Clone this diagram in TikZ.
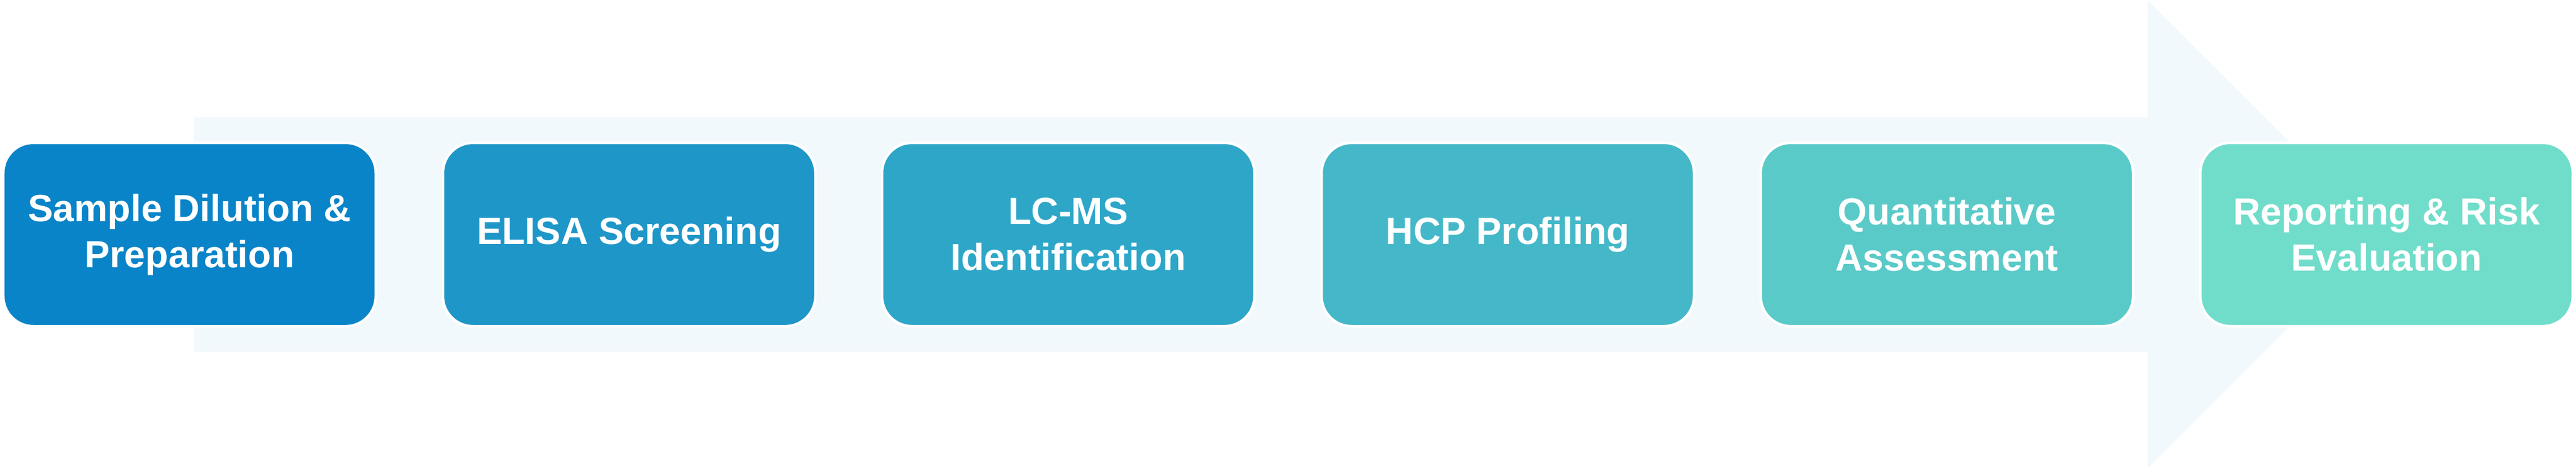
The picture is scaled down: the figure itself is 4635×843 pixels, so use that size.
\documentclass[tikz,border=0pt]{standalone}
\usepackage{fontspec}
\setmainfont{Liberation Sans}
\definecolor{arrowbg}{HTML}{F2F9FC}
\definecolor{stepa}{HTML}{0984C8}
\definecolor{stepb}{HTML}{1E96C8}
\definecolor{stepc}{HTML}{2DA6C8}
\definecolor{stepd}{HTML}{44B8C8}
\definecolor{stepe}{HTML}{5ACAC9}
\definecolor{stepf}{HTML}{70DDCA}
\begin{document}
\begin{tikzpicture}[x=0.2pt,y=-0.2pt,
  stepbox/.style={rectangle,rounded corners=10.8pt,draw=white,line width=0.9pt,
    minimum width=134pt,minimum height=66pt,text=white,align=center,
    font=\fontsize{13.6}{16.6}\selectfont\bfseries}]

 \useasboundingbox (0,0) rectangle (4635,843);
 \fill[arrowbg] (349,211) -- (3864,211) -- (3864,0) -- (4286,421.5)
       -- (3864,843) -- (3864,633) -- (349,633) -- cycle;

 \node[stepbox,fill=stepa] (dilution) at (341,422) {Sample Dilution \&\\Preparation};
 \node[stepbox,fill=stepb] (elisa)    at (1132,422) {ELISA Screening};
 \node[stepbox,fill=stepc] (lcms)     at (1922,422) {LC-MS\\Identification};
 \node[stepbox,fill=stepd] (profile)  at (2713,422) {HCP Profiling};
 \node[stepbox,fill=stepe] (quant)    at (3503,422) {Quantitative\\Assessment};
 \node[stepbox,fill=stepf] (report)   at (4294,422) {Reporting \& Risk\\Evaluation};
\end{tikzpicture}
\end{document}
